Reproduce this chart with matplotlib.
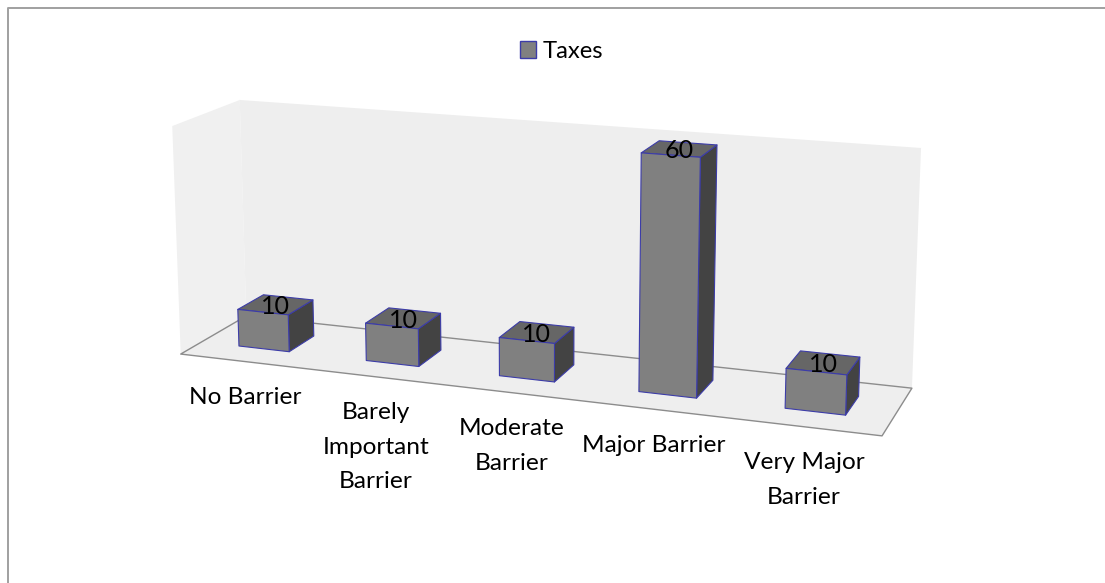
import numpy as np
import matplotlib
matplotlib.use("Agg")
import matplotlib.pyplot as plt
from matplotlib.patches import Polygon, Rectangle

# ------------------------------------------------------------
# Data
# ------------------------------------------------------------
categories = ["No Barrier", "Barely\nImportant\nBarrier", "Moderate\nBarrier",
              "Major Barrier", "Very Major\nBarrier"]
values = [10, 10, 10, 60, 10]
series_name = "Taxes"

# ------------------------------------------------------------
# Scene: box corners (x, y, z) in unit space and where they land on the canvas
# ------------------------------------------------------------
box_corners = [(0, 0, 0), (1, 0, 0), (1, 0, 1), (0, 0, 1),
               (0, 1, 0), (0, 1, 1), (1, 1, 1)]
canvas_corners = [(181, 354), (882, 436), (912, 388), (246, 316),
                  (172, 126), (240, 100), (921, 148)]
y_top = 60.5             # value at the top of the walls
gap_width = 1.5          # gap between bars, as a fraction of the bar width
z_front, z_back = 0.31, 0.71


def fit_camera(pts3, pts2):
    # least squares direct linear transform, last matrix entry fixed to 1
    A, b = [], []
    for (x, y, z), (u, v) in zip(pts3, pts2):
        A.append([x, y, z, 1, 0, 0, 0, 0, -u*x, -u*y, -u*z])
        A.append([0, 0, 0, 0, x, y, z, 1, -v*x, -v*y, -v*z])
        b += [u, v]
    m = np.linalg.lstsq(np.array(A, float), np.array(b, float), rcond=None)[0]
    return np.append(m, 1.0).reshape(3, 4)


P = fit_camera(box_corners, canvas_corners)


def proj(x, y, z):
    q = P @ np.array([x, y, z, 1.0])
    return q[0] / q[2], q[1] / q[2]


# ------------------------------------------------------------
# Drawing
# ------------------------------------------------------------
plt.rcParams["font.family"] = ["Lato", "DejaVu Sans"]
fig = plt.figure(figsize=(11.05, 5.83), dpi=100)
ax = fig.add_axes([0, 0, 1, 1])
ax.set_xlim(0, 1105)
ax.set_ylim(583, 0)
ax.axis("off")

# outer chart frame, open on the right and at the bottom
ax.plot([8, 8, 1105], [583, 7.7, 7.7], color="#a0a0a0", lw=1.4, solid_capstyle="butt")

WALL = "#eeeeee"
SIDE_WALL = "#f0f0f0"
FLOOR_LINE = "#8c8c8c"
EDGE = "#3c3ca8"


def face(pts, color, edge=None, lw=0.8, z=2):
    ax.add_patch(Polygon([proj(*p) for p in pts], closed=True, facecolor=color,
                         edgecolor=edge if edge else "none", lw=lw, zorder=z,
                         joinstyle="round"))


face([(0, 0, 0), (0, 1, 0), (0, 1, 1), (0, 0, 1)], SIDE_WALL, z=1)
face([(0, 0, 1), (0, 1, 1), (1, 1, 1), (1, 0, 1)], WALL, z=1)
face([(0, 0, 0), (1, 0, 0), (1, 0, 1), (0, 0, 1)], WALL, edge=FLOOR_LINE, lw=1.0, z=1)

n = len(values)
bar_w = 1.0 / n / (1 + gap_width)
for i, val in enumerate(values):
    xc = (i + 0.5) / n
    x0, x1 = xc - bar_w / 2, xc + bar_w / 2
    h = val / y_top
    # side, top, then front so the front edges stay on top
    face([(x1, 0, z_front), (x1, h, z_front), (x1, h, z_back), (x1, 0, z_back)],
         "#434343", edge=EDGE, z=3)
    face([(x0, h, z_front), (x1, h, z_front), (x1, h, z_back), (x0, h, z_back)],
         "#666666", edge=EDGE, z=3)
    face([(x0, 0, z_front), (x1, 0, z_front), (x1, h, z_front), (x0, h, z_front)],
         "#808080", edge=EDGE, z=4)
    tx, ty = proj(xc, h, (z_front + z_back) / 2)
    ax.text(tx, ty + 2, str(val), ha="center", va="center", fontsize=18, color="black", zorder=5)

# category labels
label_x = [245, 376, 512, 654, 804]
label_y = [397, 447, 446, 446, 480]
for name, lx, ly in zip(categories, label_x, label_y):
    ax.text(lx, ly, name, ha="center", va="center", fontsize=17.6, color="black",
            linespacing=1.8, multialignment="center")

# legend
ax.add_patch(Rectangle((520, 40.5), 15.5, 17, facecolor="#808080", edgecolor=EDGE, lw=1.0))
ax.text(543, 51, series_name, ha="left", va="center", fontsize=17.2, color="black")

fig.savefig("out.png", dpi=100)
